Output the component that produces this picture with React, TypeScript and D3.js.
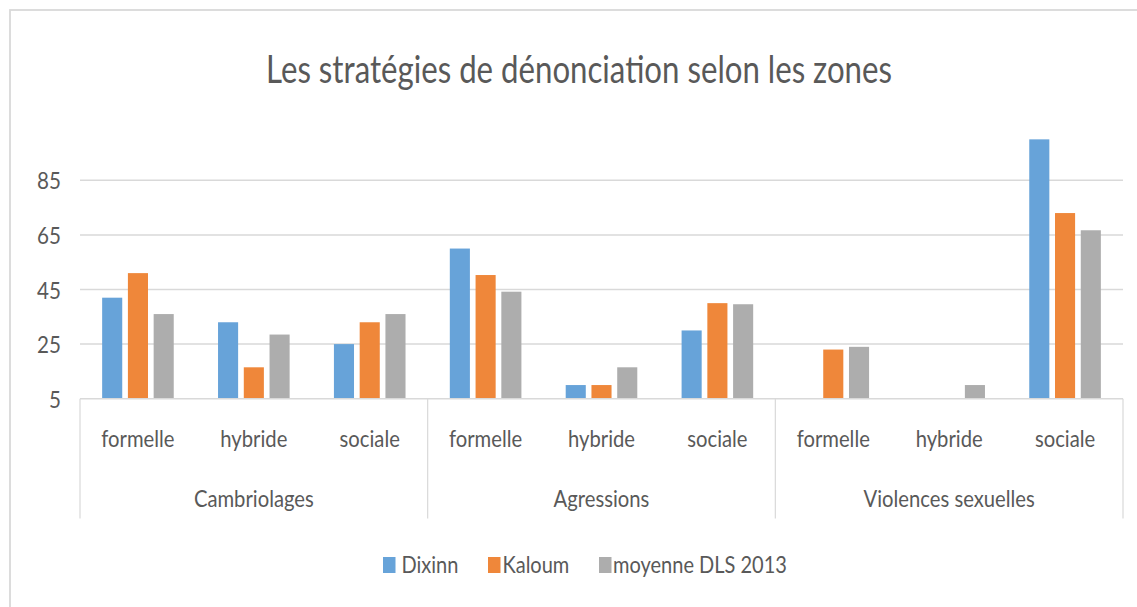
import React from "react";
import * as d3 from "d3";

const groups = ["Cambriolages", "Agressions", "Violences sexuelles"];
const subCategories = ["formelle", "hybride", "sociale"];
const seriesNames = ["Dixinn", "Kaloum", "moyenne DLS 2013"];
const seriesColors = ["#67A3D9", "#EF873A", "#ADADAD"];
// values per category: Camb(formelle, hybride, sociale), Agr(...), VS(...)
const dixinn = [42, 33, 25, 60, 10, 30, 0, 0, 100];
const kaloum = [51, 16.5, 33, 50.3, 10, 40, 23, 0, 73];
const moyenne = [36, 28.5, 36, 44.2, 16.5, 39.6, 24, 10, 66.7];
const yTicks = [5, 25, 45, 65, 85];

const W = 1137;
const H = 607;
const left = 80;
const right = 1123;
const textColor = "#595959";
const gridColor = "#D9D9D9";
const FONT = "Lato, 'Open Sans', sans-serif";

export default function App() {
  const seriesValues = [dixinn, kaloum, moyenne];
  const cats = groups.flatMap((g) => subCategories.map((s) => `${g}|${s}`));
  const x = d3.scaleBand<string>().domain(cats).range([left, right]).paddingInner(0).paddingOuter(0);
  const groupX = d3.scaleBand<string>().domain(groups).range([left, right]);
  const bw = x.bandwidth();
  const cluster = bw / 1.5;
  const xs = d3
    .scaleBand<string>()
    .domain(seriesNames)
    .range([(bw - cluster) / 2, (bw + cluster) / 2])
    .paddingInner(0.22)
    .paddingOuter(0.11);
  const y = d3.scaleLinear().domain([5, 85]).range([398.7, 180.3]);
  const base = y(5);
  const sepBottom = 518.5;

  const legendItems = [
    { name: seriesNames[0], sx: 383, tx: 401.5 },
    { name: seriesNames[1], sx: 488, tx: 502.5 },
    { name: seriesNames[2], sx: 599, tx: 613 },
  ];

  return (
    <svg
      width={W}
      height={H}
      style={{ position: "absolute", left: 0, top: 0, background: "#fff" }}
      fontFamily={FONT}
    >
      <rect x={0} y={0} width={W} height={H} fill="#fff" />
      <rect x={10} y={10} width={1300} height={800} fill="#fff" stroke={gridColor} strokeWidth={1.8} />

      <text
        transform={`translate(579,83.3) scale(0.8,1)`}
        textAnchor="middle"
        fontSize={39}
        fill={textColor}
      >
        Les stratégies de dénonciation selon les zones
      </text>

      {yTicks.map((t) => (
        <g key={t}>
          {t !== 5 && (
            <line x1={left} x2={right} y1={y(t)} y2={y(t)} stroke={gridColor} strokeWidth={1.5} />
          )}
          <text
            transform={`translate(61,${y(t) + 9}) scale(0.86,1)`}
            textAnchor="end"
            fontSize={24}
            fill={textColor}
          >
            {t}
          </text>
        </g>
      ))}

      {seriesValues.map((vals, si) =>
        vals.map((v, ci) => {
          if (v <= 5) return null;
          const bx = (x(cats[ci]) as number) + (xs(seriesNames[si]) as number);
          return (
            <rect
              key={`${si}-${ci}`}
              x={bx}
              y={y(v)}
              width={xs.bandwidth()}
              height={base - y(v)}
              fill={seriesColors[si]}
            />
          );
        })
      )}

      <line x1={left} x2={right} y1={base} y2={base} stroke={gridColor} strokeWidth={1.5} />
      {[...groups.map((g) => groupX(g) as number), right].map((sx, i) => (
        <line key={i} x1={sx} x2={sx} y1={base} y2={sepBottom} stroke={gridColor} strokeWidth={1.2} />
      ))}

      {cats.map((c) => (
        <text
          key={c}
          transform={`translate(${(x(c) as number) + bw / 2},446.7) scale(0.88,1)`}
          textAnchor="middle"
          fontSize={23}
          fill={textColor}
        >
          {c.split("|")[1]}
        </text>
      ))}

      {groups.map((g) => (
        <text
          key={g}
          transform={`translate(${(groupX(g) as number) + groupX.bandwidth() / 2},507.3) scale(0.88,1)`}
          textAnchor="middle"
          fontSize={23}
          fill={textColor}
        >
          {g}
        </text>
      ))}

      {legendItems.map((it, i) => (
        <g key={it.name}>
          <rect x={it.sx} y={557} width={12.5} height={16} fill={seriesColors[i]} />
          <text
            transform={`translate(${it.tx},573.3) scale(0.87,1)`}
            fontSize={23}
            fill={textColor}
          >
            {it.name}
          </text>
        </g>
      ))}
    </svg>
  );
}
